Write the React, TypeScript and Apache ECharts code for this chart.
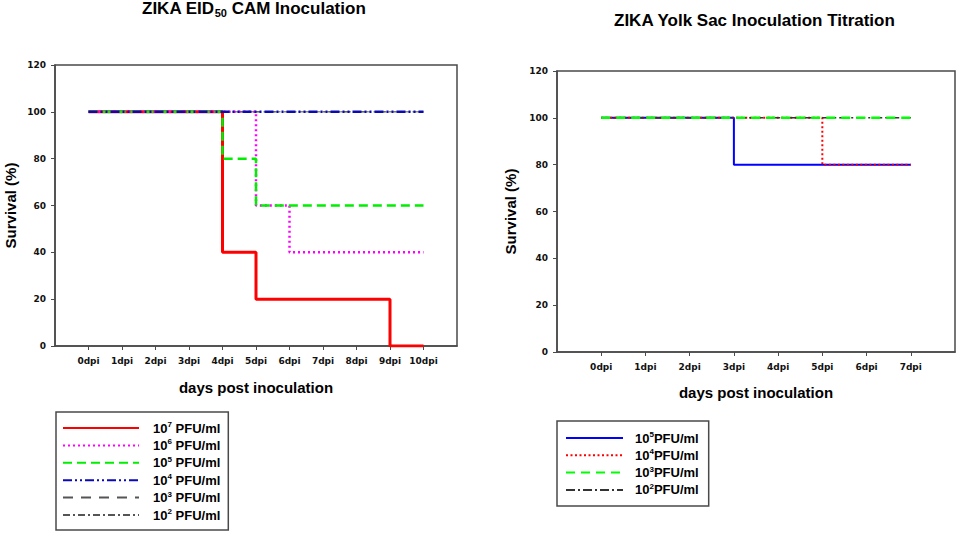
import React, { useEffect, useRef } from "react";
import * as echarts from "echarts";

// ---- Data ----
const camDays = [0, 1, 2, 3, 4, 5, 6, 7, 8, 9, 10];
const cam7 = [100, 100, 100, 100, 40, 20, 20, 20, 20, 0, 0];
const cam6 = [100, 100, 100, 100, 100, 60, 40, 40, 40, 40, 40];
const cam5 = [100, 100, 100, 100, 80, 60, 60, 60, 60, 60, 60];
const cam4 = [100, 100, 100, 100, 100, 100, 100, 100, 100, 100, 100];
const cam3 = [100, 100, 100, 100, 100, 100, 100, 100, 100, 100, 100];
const cam2 = [100, 100, 100, 100, 100, 100, 100, 100, 100, 100, 100];

const yolkDays = [0, 1, 2, 3, 4, 5, 6, 7];
const yolk5 = [100, 100, 100, 80, 80, 80, 80, 80];
const yolk4 = [100, 100, 100, 100, 100, 80, 80, 80];
const yolk3 = [100, 100, 100, 100, 100, 100, 100, 100];
const yolk2 = [100, 100, 100, 100, 100, 100, 100, 100];

const camNames = ["10^7 PFU/ml", "10^6 PFU/ml", "10^5 PFU/ml", "10^4 PFU/ml", "10^3 PFU/ml", "10^2 PFU/ml"];
const yolkNames = ["10^5PFU/ml", "10^4PFU/ml", "10^3PFU/ml", "10^2PFU/ml"];
const yTicks = [0, 20, 40, 60, 80, 100, 120];

const ARIAL = 'Arial, "Liberation Sans", sans-serif';
const TICKFONT = '"DejaVu Sans", sans-serif';
const FRAME = "#4a4a4a";

function pairs(days: number[], vals: number[]) {
  return days.map((d, i) => [d, vals[i]]);
}

function legendFmt(name: string) {
  const m = name.match(/^10\^(\d)(.*)$/);
  if (!m) return name;
  return `{sp| }{b|10}{s|${m[1]}}{b|${m[2]}}`;
}

function xAxisFor(gridIndex: number, days: number[], gap: number) {
  const last = days[days.length - 1];
  return {
    type: "value",
    gridIndex,
    min: -1,
    max: last + 1,
    interval: 1,
    name: "days post inoculation",
    nameLocation: "middle",
    nameGap: gap,
    nameTextStyle: { fontFamily: ARIAL, fontWeight: "bold", fontSize: 15, color: "#000" },
    axisLine: { show: true, onZero: false, lineStyle: { color: FRAME, width: 1.5 } },
    axisTick: { show: true, inside: false, length: 4, customValues: days, lineStyle: { color: FRAME, width: 1 } },
    axisLabel: {
      customValues: days,
      margin: 10,
      fontFamily: TICKFONT,
      fontWeight: "bold",
      fontSize: 9,
      color: "#111",
      formatter: (v: number) => (v >= 0 && v <= last ? `${v}dpi` : ""),
    },
    splitLine: { show: false },
  };
}

function yAxisFor(gridIndex: number, gap: number) {
  return {
    type: "value",
    gridIndex,
    min: yTicks[0],
    max: yTicks[yTicks.length - 1],
    interval: 20,
    name: "Survival (%)",
    nameLocation: "middle",
    nameGap: gap,
    nameTextStyle: { fontFamily: ARIAL, fontWeight: "bold", fontSize: 15, color: "#000" },
    axisLine: { show: true, onZero: false, lineStyle: { color: FRAME, width: 1.5 } },
    axisTick: { show: true, inside: false, length: 4, lineStyle: { color: FRAME, width: 1 } },
    axisLabel: { margin: 9, fontFamily: TICKFONT, fontWeight: "bold", fontSize: 9, color: "#111" },
    splitLine: { show: false },
  };
}

function line(name: string, gi: number, days: number[], vals: number[], color: string, width: number, type: any, z = 2) {
  return {
    type: "line",
    name,
    xAxisIndex: gi,
    yAxisIndex: gi,
    step: "end",
    symbol: "none",
    showSymbol: false,
    data: pairs(days, vals),
    z,
    lineStyle: { color, width, type },
    itemStyle: { color },
  };
}

const legendRich = (gapW: number) => ({
  sp: { width: gapW, fontSize: 13 },
  b: { fontFamily: ARIAL, fontWeight: "bold", fontSize: 13, lineHeight: 15, color: "#000" },
  s: { fontFamily: ARIAL, fontWeight: "bold", fontSize: 8, lineHeight: 8, verticalAlign: "top", color: "#000" },
});

export default function App() {
  const ref = useRef<HTMLDivElement>(null);
  useEffect(() => {
    if (!ref.current) return;
    const chart = echarts.init(ref.current, null, { renderer: "svg" });
    chart.setOption({
      animation: false,
      backgroundColor: "#fff",
      title: [
        {
          text: "{t|ZIKA EID}{s|50}{t| CAM Inoculation}",
          left: 142,
          top: -2,
          padding: 0,
          textStyle: {
            rich: {
              t: { fontFamily: ARIAL, fontWeight: "bold", fontSize: 17, lineHeight: 20, color: "#000" },
              s: { fontFamily: ARIAL, fontWeight: "bold", fontSize: 11, lineHeight: 10, verticalAlign: "bottom", color: "#000" },
            },
          },
        },
        {
          text: "ZIKA Yolk Sac Inoculation Titration",
          left: 614,
          top: 10,
          padding: 0,
          textStyle: { fontFamily: ARIAL, fontWeight: "bold", fontSize: 17, lineHeight: 20, color: "#000" },
        },
      ],
      grid: [
        { left: 55, top: 65, width: 402, height: 281, show: true, borderColor: FRAME, borderWidth: 1.5, backgroundColor: "transparent" },
        { left: 557, top: 71, width: 398, height: 281, show: true, borderColor: FRAME, borderWidth: 1.5, backgroundColor: "transparent" },
      ],
      xAxis: [xAxisFor(0, camDays, 34), xAxisFor(1, yolkDays, 33)],
      yAxis: [yAxisFor(0, 37), yAxisFor(1, 39)],
      legend: [
        {
          orient: "vertical",
          left: 56,
          top: 412,
          itemWidth: 76,
          itemHeight: 14,
          itemGap: 3.4,
          padding: [8.5, 8, 8.5, 6],
          borderColor: FRAME,
          borderWidth: 1.5,
          data: camNames,
          formatter: legendFmt,
          itemStyle: { opacity: 0 },
          textStyle: { rich: legendRich(9) },
        },
        {
          orient: "vertical",
          left: 557,
          top: 421,
          itemWidth: 57,
          itemHeight: 14,
          itemGap: 3.3,
          padding: [9.5, 10, 9.5, 8],
          borderColor: FRAME,
          borderWidth: 1.5,
          data: yolkNames,
          formatter: legendFmt,
          itemStyle: { opacity: 0 },
          textStyle: { rich: legendRich(7) },
        },
      ],
      series: [
        line(camNames[4], 0, camDays, cam3, "#555555", 1, [10, 8]),
        line(camNames[5], 0, camDays, cam2, "#555555", 1, [7, 3, 2, 3]),
        line(camNames[0], 0, camDays, cam7, "#ff0000", 3, "solid"),
        line(camNames[1], 0, camDays, cam6, "#ff00ff", 2.5, [2, 3]),
        line(camNames[2], 0, camDays, cam5, "#00ee00", 2.5, [9, 5]),
        line(camNames[3], 0, camDays, cam4, "#0a0ab4", 2.5, [9, 3, 2, 3, 2, 3]),
        line(yolkNames[0], 1, yolkDays, yolk5, "#0000ff", 2, "solid"),
        line(yolkNames[1], 1, yolkDays, yolk4, "#ff0000", 2, [2, 2.5]),
        line(yolkNames[3], 1, yolkDays, yolk2, "#333333", 1.5, [9, 3, 2, 3]),
        line(yolkNames[2], 1, yolkDays, yolk3, "#00ff00", 2.5, [9, 6]),
      ],
    });
    return () => chart.dispose();
  }, []);
  return <div ref={ref} style={{ position: "absolute", left: 0, top: 0, width: 960, height: 533 }} />;
}
